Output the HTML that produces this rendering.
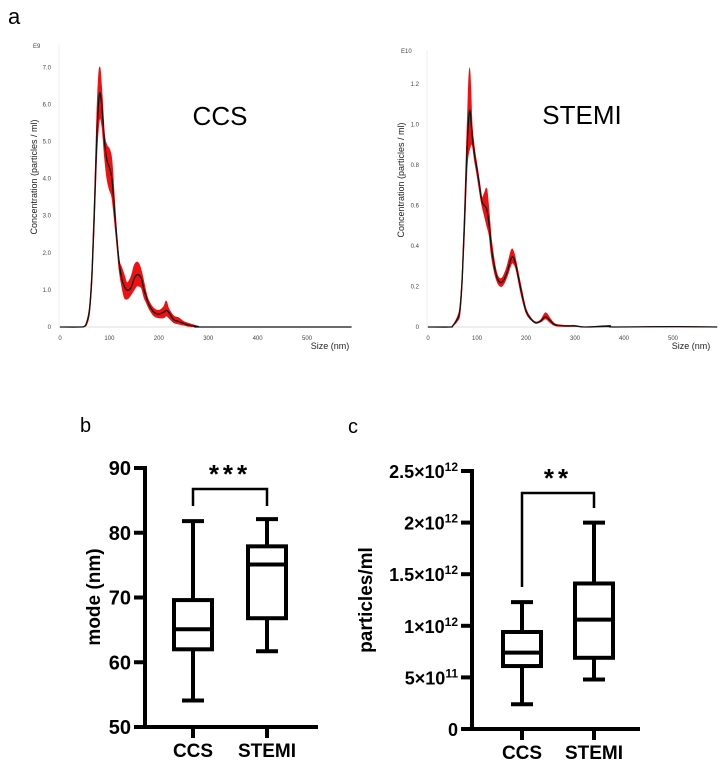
<!DOCTYPE html>
<html><head><meta charset="utf-8">
<style>
body{margin:0;background:#fff;}
svg{display:block;font-family:"Liberation Sans",Arial,sans-serif;}
</style></head>
<body>
<svg id="fig" width="722" height="770" viewBox="0 0 722 770">
  <text x="8" y="24" font-size="22">a</text>
  <text x="80" y="432" font-size="20">b</text>
  <text x="348" y="433" font-size="20">c</text>
  <g id="ntaCCS"></g>
  <g id="ntaSTEMI"></g>
  <g id="boxB"></g>
  <g id="boxC"></g>
</svg>
<script>
// ---- NTA CCS data (units E9) ----
const ccsSizes = [0,40,50,55,60,65,70,75,80,85,90,95,100,105,110,115,120,125,130,135,140,145,150,155,160,165,170,175,180,190,200,210,215,220,230,240,250,260,270,280,300,590];
const ccsMean  = [0,0,0.02,0.15,0.5,1.5,3.3,5.3,6.3,5.9,5.0,4.5,4.3,4.0,3.2,2.4,1.7,1.3,1.1,1.0,1.0,1.1,1.3,1.4,1.4,1.3,1.0,0.8,0.6,0.4,0.35,0.4,0.45,0.4,0.2,0.15,0.1,0.05,0.03,0.01,0,0];
const ccsUpper = [0,0,0.03,0.2,0.6,1.7,3.6,5.9,7.0,6.3,5.2,4.9,4.8,4.5,3.5,2.5,1.8,1.6,1.4,1.2,1.25,1.4,1.65,1.75,1.7,1.5,1.2,0.9,0.7,0.5,0.45,0.55,0.7,0.5,0.3,0.25,0.15,0.1,0.06,0.02,0,0];
const ccsLower = [0,0,0.01,0.1,0.4,1.3,3.0,4.8,5.6,5.4,4.6,4.0,3.7,3.5,2.9,2.2,1.5,1.1,0.8,0.75,0.8,0.9,1.0,1.1,1.1,1.05,0.8,0.65,0.5,0.3,0.25,0.25,0.3,0.25,0.12,0.08,0.05,0.02,0.01,0,0,0];
const ccsYTicks = [0,1,2,3,4,5,6,7];
const ccsYLabels = ["0","1.0","2.0","3.0","4.0","5.0","6.0","7.0"];
// ---- NTA STEMI data (units E10) ----
const stSizes = [0,45,50,55,60,65,70,75,80,85,90,95,100,105,110,115,120,125,130,140,150,160,170,175,180,190,200,210,220,230,240,250,260,280,300,320,370,380,500,590];
const stMean  = [0,0,0.005,0.02,0.04,0.08,0.25,0.55,0.9,1.07,0.95,0.85,0.78,0.7,0.62,0.6,0.58,0.5,0.38,0.25,0.22,0.26,0.34,0.34,0.3,0.18,0.08,0.04,0.02,0.03,0.05,0.03,0.01,0.005,0.005,0,0.004,0,0.002,0];
const stUpper = [0,0,0.006,0.025,0.05,0.1,0.28,0.62,1.0,1.28,1.0,0.88,0.8,0.72,0.64,0.66,0.68,0.56,0.42,0.27,0.24,0.29,0.38,0.37,0.32,0.2,0.09,0.045,0.025,0.035,0.07,0.04,0.015,0.008,0.008,0,0.008,0,0.003,0];
const stLower = [0,0,0.004,0.015,0.03,0.06,0.22,0.5,0.8,0.88,0.9,0.82,0.75,0.67,0.6,0.55,0.5,0.45,0.34,0.23,0.2,0.24,0.31,0.31,0.28,0.16,0.07,0.035,0.018,0.025,0.04,0.02,0.006,0.003,0.003,0,0.001,0,0.001,0];
const stYTicks = [0,0.2,0.4,0.6,0.8,1.0,1.2];
const stYLabels = ["0","0.2","0.4","0.6","0.8","1.0","1.2"];
const ntaXTicks = [0,100,200,300,400,500];
// ---- Box plot data ----
const boxCategories = ["CCS","STEMI"];
const modeStats = [[54.1,62.0,65.1,69.6,81.8],[61.7,66.8,75.1,77.9,82.1]];
const modeTicks = [50,60,70,80,90];
const concStats = [[0.24,0.61,0.74,0.94,1.23],[0.48,0.69,1.06,1.41,2.0]];
const concTicks = [0,0.5,1,1.5,2,2.5];
const concTickMant = ["0","5×10","1×10","1.5×10","2×10","2.5×10"];
const concTickExp = ["","11","12","12","12","12"];

const NS="http://www.w3.org/2000/svg";
function mk(parent,tag,attrs,text){const e=document.createElementNS(NS,tag);for(const k in attrs)e.setAttribute(k,attrs[k]);if(text!==undefined)e.textContent=text;parent.appendChild(e);return e;}
// Catmull-Rom smoothing through points; returns path segments (without initial M)
function smooth(P){
  let d='';
  for(let i=0;i<P.length-1;i++){
    const p0=P[Math.max(i-1,0)],p1=P[i],p2=P[i+1],p3=P[Math.min(i+2,P.length-1)];
    const c1=[p1[0]+(p2[0]-p0[0])/6,p1[1]+(p2[1]-p0[1])/6];
    const c2=[p2[0]-(p3[0]-p1[0])/6,p2[1]-(p3[1]-p1[1])/6];
    d+=` C${c1[0].toFixed(2)},${c1[1].toFixed(2)} ${c2[0].toFixed(2)},${c2[1].toFixed(2)} ${p2[0].toFixed(2)},${p2[1].toFixed(2)}`;
  }
  return d;
}

function nta(gid,cfg,sizes,mean,upper,lower,yT,yL){
  const g=document.getElementById(gid);
  const sx=v=>cfg.x0+v*cfg.kx, sy=v=>cfg.y0-v*cfg.ky;
  let a=mk(g,'line',{x1:cfg.x0-1,y1:cfg.y0,x2:cfg.xEnd,y2:cfg.y0,stroke:'#ddd','stroke-width':1});
  
  a=mk(g,'line',{x1:cfg.x0-1,y1:cfg.yTop,x2:cfg.x0-1,y2:cfg.y0,stroke:'#eee','stroke-width':1});
  
  ntaXTicks.forEach(t=>{const e=mk(g,'text',{x:sx(t),y:cfg.y0+13,'font-size':6,fill:'#444','text-anchor':'middle'},String(t));
    });
  yT.forEach((t,i)=>{const e=mk(g,'text',{x:cfg.x0-9,y:sy(t)+2,'font-size':6,fill:'#444','text-anchor':'end'},yL[i]);
    });
  const up=sizes.map((s,i)=>[sx(s),sy(upper[i])]);
  const lo=sizes.map((s,i)=>[sx(s),sy(lower[i])]).reverse();
  const d='M'+up[0][0]+','+up[0][1]+smooth(up)+' L'+lo[0][0]+','+lo[0][1]+smooth(lo)+' Z';
  let p=mk(g,'path',{d:d,fill:'#f01010',stroke:'#f01010','stroke-width':0.8,'stroke-linejoin':'round'});
  
  const mp=sizes.map((s,i)=>[sx(s),sy(mean[i])]);
  p=mk(g,'path',{d:'M'+mp[0][0]+','+mp[0][1]+smooth(mp),fill:'none',stroke:'#111','stroke-width':1.3,'stroke-linejoin':'round'});
  
  let t=mk(g,'text',{x:cfg.x0-27,y:cfg.yTop+3,'font-size':6,fill:'#444'},cfg.exp);
  
  t=mk(g,'text',{x:cfg.ytx,y:cfg.yty,'font-size':9,fill:'#222','text-anchor':'middle',transform:`rotate(-90 ${cfg.ytx} ${cfg.yty})`},'Concentration (particles / ml)');
  
  t=mk(g,'text',{x:cfg.xEnd-20,y:cfg.y0+22,'font-size':9,fill:'#222','text-anchor':'middle'},'Size (nm)');
  
  t=mk(g,'text',{x:cfg.lx,y:cfg.ly,'font-size':26,fill:'#000','text-anchor':'middle'},cfg.label);
  
}
nta('ntaCCS',{x0:60,kx:0.494,y0:327,ky:37.1,xEnd:350,yTop:45,exp:'E9',ytx:37,yty:177,lx:220,ly:125,label:'CCS'},ccsSizes,ccsMean,ccsUpper,ccsLower,ccsYTicks,ccsYLabels);
nta('ntaSTEMI',{x0:428,kx:0.49,y0:327,ky:202.5,xEnd:711,yTop:50,exp:'E10',ytx:404,yty:180,lx:582,ly:124,label:'STEMI'},stSizes,stMean,stUpper,stLower,stYTicks,stYLabels);

function box(gid,cfg,stats,ticks,tickFn,stars){
  const g=document.getElementById(gid);
  const sy=v=>cfg.y0-(v-cfg.vmin)*cfg.ky;
  const lw=4;
  let a=mk(g,'line',{x1:cfg.ax,y1:sy(ticks[ticks.length-1])-2,x2:cfg.ax,y2:cfg.y0+2,stroke:'#000','stroke-width':lw});
  
  a=mk(g,'line',{x1:cfg.ax-2,y1:cfg.y0,x2:cfg.xEnd,y2:cfg.y0,stroke:'#000','stroke-width':lw});
  
  ticks.forEach((t,i)=>{
    const l=mk(g,'line',{x1:cfg.ax-11,y1:sy(t),x2:cfg.ax,y2:sy(t),stroke:'#000','stroke-width':lw});
    
    tickFn(g,cfg.ax-14,sy(t)+7,i);
  });
  boxCategories.forEach((c,i)=>{
    const cx=cfg.cx[i], s=stats[i], hw=19;
    let e=mk(g,'line',{x1:cx,y1:cfg.y0,x2:cx,y2:cfg.y0+11,stroke:'#000','stroke-width':lw});
    
    e=mk(g,'text',{x:cx,y:cfg.y0+30,'font-size':19,'font-weight':'bold','text-anchor':'middle'},c);
    
    e=mk(g,'line',{x1:cx,y1:sy(s[0]),x2:cx,y2:sy(s[4]),stroke:'#000','stroke-width':lw});
    
    [0,4].forEach(k=>{const w=mk(g,'line',{x1:cx-11,y1:sy(s[k]),x2:cx+11,y2:sy(s[k]),stroke:'#000','stroke-width':lw});
      });
    e=mk(g,'rect',{x:cx-hw,y:sy(s[3]),width:2*hw,height:sy(s[1])-sy(s[3]),fill:'#fff',stroke:'#000','stroke-width':lw});
    
    e=mk(g,'line',{x1:cx-hw,y1:sy(s[2]),x2:cx+hw,y2:sy(s[2]),stroke:'#000','stroke-width':lw});
    
  });
  let b=mk(g,'polyline',{points:`${cfg.cx[0]},${cfg.bl} ${cfg.cx[0]},${cfg.by} ${cfg.cx[1]},${cfg.by} ${cfg.cx[1]},${cfg.br}`,fill:'none',stroke:'#000','stroke-width':2.5});
  
  b=mk(g,'text',{x:(cfg.cx[0]+cfg.cx[1])/2,y:cfg.by-6,'font-size':26,'font-weight':'bold','text-anchor':'middle','letter-spacing':4},stars);
  
  b=mk(g,'text',{x:cfg.tx,y:cfg.ty,'font-size':19,'font-weight':'bold','text-anchor':'middle',transform:`rotate(-90 ${cfg.tx} ${cfg.ty})`},cfg.title);
  
}
box('boxB',{ax:145,y0:727,vmin:50,ky:6.475,xEnd:318,cx:[193,267],by:489,bl:506,br:506,tx:100,ty:597,title:'mode (nm)'},modeStats,modeTicks,
  (g,x,y,i)=>{const e=mk(g,'text',{x:x,y:y,'font-size':20,'font-weight':'bold','text-anchor':'end'},String(modeTicks[i]));
    },'***');
box('boxC',{ax:472,y0:729,vmin:0,ky:103.2,xEnd:640,cx:[522,594],by:493,bl:587,br:508,tx:372,ty:600,title:'particles/ml'},concStats,concTicks,
  (g,x,y,i)=>{const e=mk(g,'text',{x:x,y:y,'font-size':18,'font-weight':'bold','text-anchor':'end'});
    
    mk(e,'tspan',{},concTickMant[i]);
    if(concTickExp[i]){mk(e,'tspan',{dy:-7,'font-size':12},concTickExp[i]);}
  },'**');
</script>
</body></html>
